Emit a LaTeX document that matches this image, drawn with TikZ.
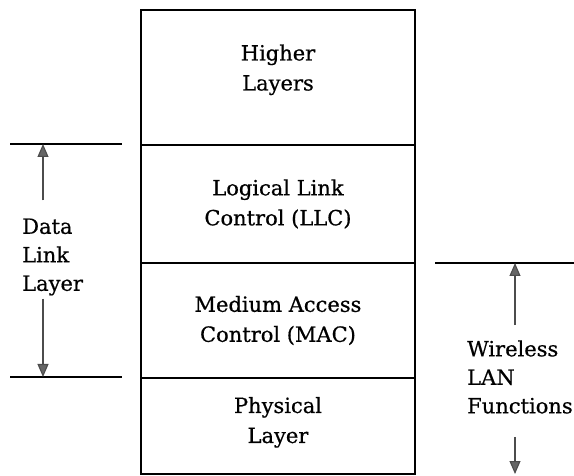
\documentclass[tikz,border=0pt]{standalone}
\usepackage{fontspec}
\setmainfont[FakeBold=0.6]{DejaVu Serif}
\usetikzlibrary{arrows.meta}

\begin{document}
\begin{tikzpicture}[x=1pt, y=-1pt,
  layer/.style={rectangle, draw, line width=1.4pt, minimum width=274pt, inner sep=0pt, align=center, font=\fontsize{21}{30}\selectfont},
  side/.style={align=left, inner sep=0pt, font=\fontsize{21}{28.5}\selectfont},
  tick/.style={line width=1.4pt},
  dim/.style={draw=black!70, line width=1.1pt, -{Triangle[width=11pt, length=13pt, fill=black!60]}}]

\useasboundingbox (0,0) rectangle (574,476);

% Pila de capas
\node (higher) [layer, minimum height=135pt, text depth=20pt] at (278,77.5) {Higher\\Layers};
\node (llc) [layer, minimum height=118pt] at (278,204) {Logical Link\\Control (LLC)};
\node (mac) [layer, minimum height=115pt] at (278,320.5) {Medium Access\\Control (MAC)};
\node (phy) [layer, minimum height=96pt, text depth=12pt] at (278,426) {Physical\\Layer};

% Cota izquierda: capa de enlace
\coordinate (dlUp) at (43,144);
\coordinate (dlDn) at (43,377);
\draw [tick] (10,144) -- (122,144);
\draw [tick] (10,377) -- (122,377);
\node (dll) [side, anchor=west] at (22,257) {Data\\Link\\Layer};
\draw [dim] ([yshift=18pt]dll.north -| dlUp) -- (dlUp);
\draw [dim] ([yshift=-3pt]dll.south -| dlDn) -- (dlDn);

% Cota derecha: funciones WLAN
\coordinate (wlUp) at (515,263);
\coordinate (wlDn) at (515,474);
\draw [tick] (435,263) -- (574,263);
\node (wlan) [side, anchor=west] at (467,377) {Wireless\\LAN\\Functions};
\draw [dim] ([yshift=15pt]wlan.north -| wlUp) -- (wlUp);
\draw [dim] ([yshift=-23pt]wlan.south -| wlDn) -- (wlDn);
\end{tikzpicture}
\end{document}
